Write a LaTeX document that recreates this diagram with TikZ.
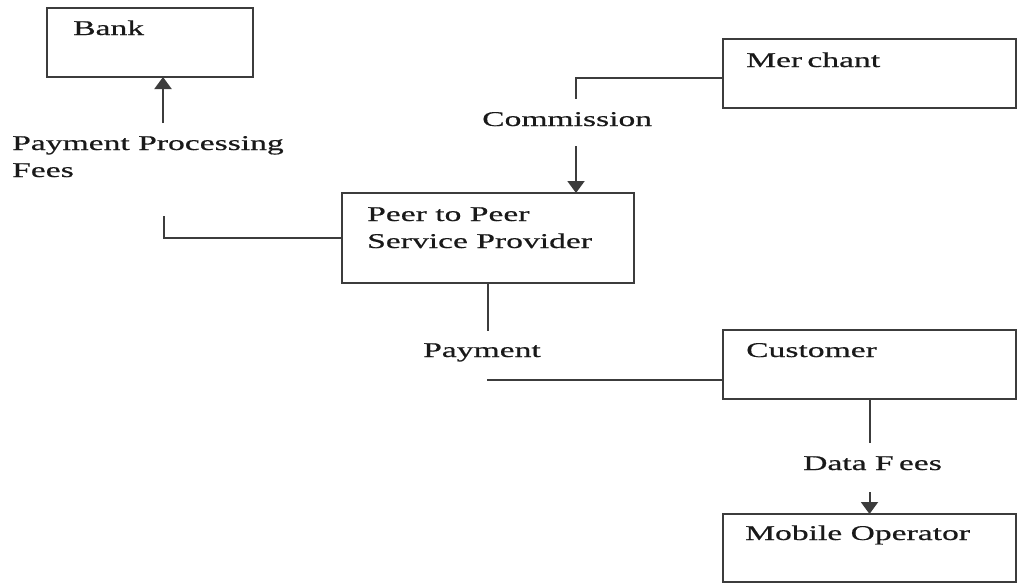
\documentclass[tikz,border=0pt]{standalone}
\usepackage{fontspec}
\setmainfont{Liberation Serif}[FakeStretch=1.6,FakeBold=0.6]
\usetikzlibrary{arrows.meta}
\definecolor{ln}{HTML}{3C3C3C}
\begin{document}
\begin{tikzpicture}[x=1pt,y=-1pt,
  box/.style={draw=ln, line width=1.8pt, inner sep=0pt, outer sep=0pt, anchor=north west},
  txt/.style={inner sep=0pt, anchor=base west, font=\fontsize{21}{27}\selectfont, text=black!90},
  conn/.style={draw=ln, line width=2pt},
  arr/.style={conn, -{Triangle[width=17pt,length=12pt]}}]
\useasboundingbox (0,0) rectangle (1036,584);
% boxes
\node[box, minimum width=206pt, minimum height=69pt] (bank) at (47,8) {};
\node[box, minimum width=293pt, minimum height=69pt] (merchant) at (723,39) {};
\node[box, minimum width=292pt, minimum height=90pt] (peer) at (342,193) {};
\node[box, minimum width=293pt, minimum height=69pt] (customer) at (723,330) {};
\node[box, minimum width=293pt, minimum height=68pt] (mobile) at (723,514) {};
% box texts
\node[txt] (tbank) at (73,35) {Bank};
\node[txt] (tmerch) at (746,67) {Mer\kern0.25em chant};
\node[txt] (tpeer1) at (367,221) {Peer to Peer};
\node[txt] (tpeer2) at (367,248) {Service Provider};
\node[txt] (tcust) at (746,357) {Customer};
\node[txt] (tmob) at (745,540) {Mobile Operator};
% labels
\node[txt] (lppf1) at (12,150) {Payment Processing};
\node[txt] (lppf2) at (12,177) {Fees};
\node[txt] (lcom) at (482,126) {Commission};
\node[txt] (lpay) at (423,357) {Payment};
\node[txt] (ldata) at (803,470) {Data F\kern0.25em ees};
% free ends
\coordinate (bkend) at (164,216);
\coordinate (bkarr) at (163,123);
\coordinate (mcend) at (576,99);
\coordinate (mcarr) at (576,146);
\coordinate (pyend) at (488,331);
\coordinate (pyline) at (487,380);
\coordinate (cuend) at (869.5,443);
\coordinate (cuarr) at (869.5,492);
% connectors
\draw[conn] (peer.west) -| (bkend);
\draw[arr] (bkarr) -- (bkarr |- bank.south);
\draw[conn] ([yshift=-4.5pt]merchant.west) -| (mcend);
\draw[arr] (mcarr) -- (mcarr |- peer.north);
\draw[conn] (peer.south) -- (pyend);
\draw[conn, line width=1.4pt] (pyline) -- (pyline -| customer.west);
\draw[conn] (customer.south) -- (cuend);
\draw[arr] (cuarr) -- (mobile.north);
\end{tikzpicture}
\end{document}
